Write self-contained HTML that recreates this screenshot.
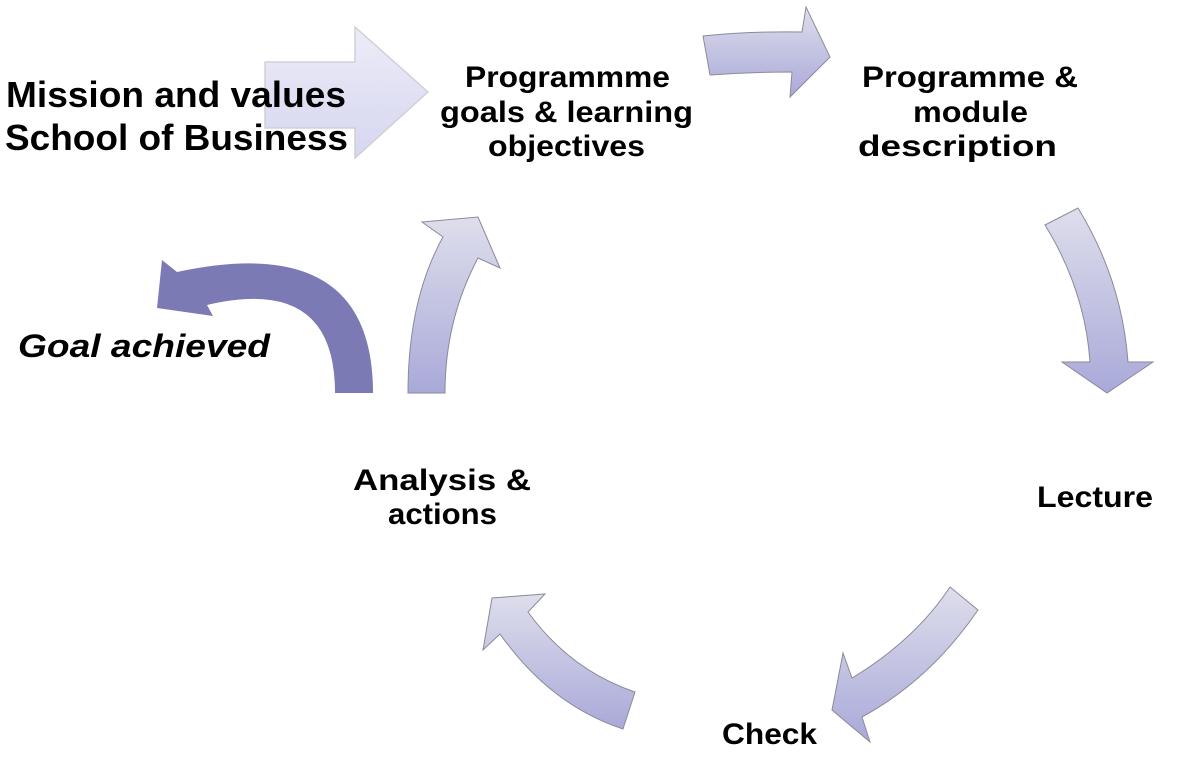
<!DOCTYPE html>
<html><head><meta charset="utf-8"><style>
html,body{margin:0;padding:0;background:#fff;}
svg{display:block;}
text{font-family:"Liberation Sans",Arial,sans-serif;font-weight:bold;fill:#000;}
</style></head><body>
<svg width="1185" height="763" viewBox="0 0 1185 763" xmlns="http://www.w3.org/2000/svg">
<defs>
<linearGradient id="g" x1="0" y1="0" x2="0" y2="1">
<stop offset="0" stop-color="#dedeec"/><stop offset="1" stop-color="#a9a9d9"/></linearGradient>
<linearGradient id="g2" x1="0" y1="0" x2="0" y2="1">
<stop offset="0" stop-color="#ececf8"/><stop offset="1" stop-color="#d6d6f0"/></linearGradient>
</defs>
<path d="M265,62 L355,62 L355,27 L428,92 L355,158 L355,128 L265,128 Z" fill="url(#g2)" stroke="#d0d0d8" stroke-width="1.5"/>
<path d="M703,36 Q750,31 802,32 L806,7 L830,57 L790,97 L792,72 Q750,72 710,75 Z" fill="url(#g)" stroke="#8a8a9a" stroke-width="1"/>
<path d="M1045,225 L1078,208 Q1122,280 1128,362 L1153,362 L1107,393 L1062,362 L1090,362 Q1085,290 1045,225 Z" fill="url(#g)" stroke="#8a8a9a" stroke-width="1"/>
<path d="M950,587 L978,610 Q930,680 862,717 L870,742 L832,710 L843,653 L852,678 Q915,640 950,587 Z" fill="url(#g)" stroke="#8a8a9a" stroke-width="1"/>
<path d="M635,692 L623,729 Q550,705 500,634 L483,650 L492,598 L545,594 L528,612 Q570,670 635,692 Z" fill="url(#g)" stroke="#8a8a9a" stroke-width="1"/>
<path d="M408,393 Q408,300 443,237 L422,222 L478,217 L500,268 L478,258 Q445,320 445,393 Z" fill="url(#g)" stroke="#8a8a9a" stroke-width="1"/>
<path d="M373,393 Q373,230 177,272 L162,260 L157,308 L213,316 L207,305 Q335,275 335,393 Z" fill="#7b7ab5"/>
<text x="6" y="107" font-size="36" textLength="340" lengthAdjust="spacingAndGlyphs">Mission and values</text>
<text x="5" y="150" font-size="36" textLength="343" lengthAdjust="spacingAndGlyphs">School of Business</text>
<text x="465" y="87" font-size="30" textLength="205" lengthAdjust="spacingAndGlyphs">Programmme</text>
<text x="440" y="122" font-size="30" textLength="253" lengthAdjust="spacingAndGlyphs">goals &amp; learning</text>
<text x="488" y="156" font-size="30" textLength="157" lengthAdjust="spacingAndGlyphs">objectives</text>
<text x="862" y="87" font-size="30" textLength="216" lengthAdjust="spacingAndGlyphs">Programme  &amp;</text>
<text x="913" y="122" font-size="30" textLength="115" lengthAdjust="spacingAndGlyphs">module</text>
<text x="858" y="156" font-size="30" textLength="199" lengthAdjust="spacingAndGlyphs">description</text>
<text x="18" y="357" font-size="32" font-style="italic" textLength="252" lengthAdjust="spacingAndGlyphs">Goal achieved</text>
<text x="353" y="490" font-size="30" textLength="178" lengthAdjust="spacingAndGlyphs">Analysis  &amp;</text>
<text x="388" y="524" font-size="30" textLength="109" lengthAdjust="spacingAndGlyphs">actions</text>
<text x="1037" y="507" font-size="30" textLength="116" lengthAdjust="spacingAndGlyphs">Lecture</text>
<text x="722" y="744" font-size="30" textLength="95" lengthAdjust="spacingAndGlyphs">Check</text>
</svg>
</body></html>
